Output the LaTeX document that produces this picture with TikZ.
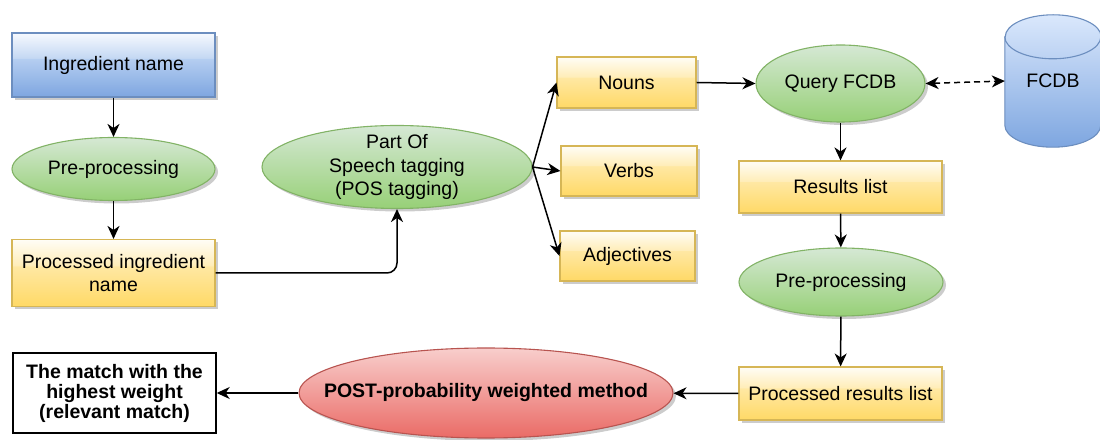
\documentclass[tikz,border=0pt]{standalone}
\usepackage{fontspec}
\setmainfont{Liberation Sans}
\usetikzlibrary{arrows.meta,shadows,calc,backgrounds,shapes.geometric}
\usepackage{xcolor}
\definecolor{flowInk}{HTML}{000000}
\definecolor{blueEdge}{HTML}{6C8EBF}
\definecolor{blueTop}{HTML}{DAE8FC}
\definecolor{blueBot}{HTML}{7EA6E0}
\definecolor{blueMid}{HTML}{B5CEF1}
\definecolor{blueGlass}{HTML}{C4D8F3}
\definecolor{blueShine}{HTML}{F6F9FE}
\definecolor{yellowEdge}{HTML}{D6B656}
\definecolor{yellowBot}{HTML}{FFD966}
\definecolor{yellowMid}{HTML}{FFE8A3}
\definecolor{yellowGlass}{HTML}{FFEDB8}
\definecolor{yellowShine}{HTML}{FFFDF6}
\definecolor{greenEdge}{HTML}{82B366}
\definecolor{greenTop}{HTML}{D5E8D4}
\definecolor{greenBot}{HTML}{97D077}
\definecolor{redEdge}{HTML}{B85450}
\definecolor{redTop}{HTML}{F8CECC}
\definecolor{redBot}{HTML}{EA6B66}
% glassy fills: light upper half, hard edge a bit above the middle
\pgfdeclareverticalshading{glassblue}{100bp}{color(0bp)=(blueBot); color(25bp)=(blueBot);
  color(55bp)=(blueMid); color(55.5bp)=(blueGlass); color(75bp)=(blueShine); color(100bp)=(blueShine)}
\pgfdeclareverticalshading{glassyellow}{100bp}{color(0bp)=(yellowBot); color(25bp)=(yellowBot);
  color(55bp)=(yellowMid); color(55.5bp)=(yellowGlass); color(75bp)=(yellowShine); color(100bp)=(yellowShine)}
\newcommand{\flowfont}{\fontsize{19.5}{23.5}\selectfont}
\tikzset{
  flowshadow/.style = {drop shadow={shadow xshift=3pt, shadow yshift=-3pt,
                       fill=black, opacity=0.2}},
  inbox/.style      = {rectangle, draw=blueEdge, line width=1.1pt, shading=glassblue,
                       flowshadow, align=center, font=\flowfont},
  listbox/.style    = {rectangle, draw=yellowEdge, line width=1.1pt, shading=glassyellow,
                       flowshadow, align=center, font=\flowfont, inner sep=0pt},
  stageell/.style   = {ellipse, draw=greenEdge, line width=1.1pt, top color=greenTop,
                       bottom color=greenBot, flowshadow, align=center, font=\flowfont,
                       inner sep=0pt},
  methodell/.style  = {ellipse, draw=redEdge, line width=1.1pt, top color=redTop,
                       bottom color=redBot, flowshadow, align=center,
                       font=\flowfont\bfseries, inner sep=0pt},
  outbox/.style     = {rectangle, draw=flowInk, line width=1.4pt, fill=white, align=center,
                       font=\fontsize{19.5}{20}\selectfont\bfseries, inner sep=0pt},
  link/.style       = {-{Stealth[length=13pt, width=12pt, inset=4pt]}, line width=1.5pt,
                       draw=flowInk},
  duallink/.style   = {{Stealth[length=13pt, width=12pt, inset=4pt]}-{Stealth[length=13pt,
                       width=12pt, inset=4pt]}, line width=1.5pt, draw=flowInk,
                       dash pattern=on 6pt off 4pt},
}

\begin{document}
\begin{tikzpicture}[x=1pt, y=1pt]
  \useasboundingbox (0,0) rectangle (1100,439);

  % left column
  \node[inbox, minimum width=203pt, minimum height=64pt] (ingr) at (113.5,374) {Ingredient name};
  \node[stageell, minimum width=203pt, minimum height=63pt] (prep1) at (113.5,270) {Pre-processing};
  \node[listbox, minimum width=203pt, minimum height=67pt] (procingr) at (113.5,166)
    {Processed ingredient\\name};

  % tagging and word classes
  \node[stageell, minimum width=270pt, minimum height=83pt, inner ysep=-5pt] (pos) at (397,272)
    {Part Of\\Speech tagging\\(POS tagging)};
  \node[listbox, minimum width=139pt, minimum height=51pt] (nouns) at (626.5,356.5) {Nouns};
  \node[listbox, minimum width=136pt, minimum height=50pt] (verbs) at (629,268) {Verbs};
  \node[listbox, minimum width=135pt, minimum height=50pt] (adjs) at (627.5,183) {Adjectives};

  % database side
  \node[stageell, minimum width=169pt, minimum height=77pt] (query) at (840.5,355.5) {Query FCDB};
  \node[rectangle, minimum width=96pt, minimum height=132pt, font=\flowfont] (fcdb) at (1053,358) {};
  \begin{scope}[on background layer]
    \fill[black, opacity=0.2, shift={(3,-3)}]
      ($(fcdb.north west)+(0,-22)$) -- ($(fcdb.south west)+(0,22)$)
      arc[start angle=180, end angle=360, x radius=48, y radius=22]
      -- ($(fcdb.north east)+(0,-22)$)
      arc[start angle=0, end angle=180, x radius=48, y radius=22] -- cycle;
    \draw[draw=blueEdge, line width=1.1pt, top color=blueTop, bottom color=blueBot]
      ($(fcdb.north west)+(0,-22)$) -- ($(fcdb.south west)+(0,22)$)
      arc[start angle=180, end angle=360, x radius=48, y radius=22]
      -- ($(fcdb.north east)+(0,-22)$)
      arc[start angle=0, end angle=180, x radius=48, y radius=22] -- cycle;
    \draw[draw=blueEdge, line width=1.1pt] ($(fcdb.north west)+(0,-22)$)
      arc[start angle=180, end angle=360, x radius=48, y radius=22];
  \end{scope}
  \node[font=\flowfont] (fcdblabel) at (fcdb) {FCDB};

  \node[listbox, minimum width=203pt, minimum height=52pt] (results) at (840.5,252) {Results list};
  \node[stageell, minimum width=204pt, minimum height=68pt] (prep2) at (841,157) {Pre-processing};
  \node[listbox, minimum width=203pt, minimum height=53pt] (procres) at (840.5,45.5)
    {Processed results list};

  % bottom row
  \node[methodell, minimum width=374pt, minimum height=90pt, inner xsep=-35pt] (post) at (486,46)
    {POST-probability weighted method};
  \node[outbox, minimum width=203pt, minimum height=80pt] (match) at (114.5,46)
    {The match with the\\highest weight\\(relevant match)};

  \draw[link] (ingr) -- (prep1);
  \draw[link] (prep1) -- (procingr);
  \draw[link, rounded corners=10pt] (procingr.east) -| (pos.south);
  \draw[link] (pos.east) -- (nouns.west);
  \draw[link] (pos.east) -- (verbs.west);
  \draw[link] (pos.east) -- (adjs.west);
  \draw[link] (nouns.east) -- (query.west);
  \draw[duallink] (query.east) -- (fcdb.west);
  \draw[link] (query) -- (results);
  \draw[link] (results) -- (prep2);
  \draw[link] (prep2) -- (procres);
  \draw[link] (procres) -- (post);
  \draw[link] (post) -- (match);
\end{tikzpicture}
\end{document}
